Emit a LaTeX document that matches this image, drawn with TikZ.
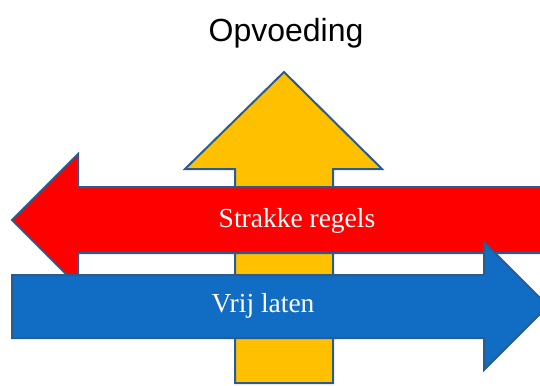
\documentclass[tikz,border=0pt]{standalone}
\usepackage{fontspec}
\setmainfont{Liberation Serif}
\newfontfamily\titlefont{Liberation Sans}
\definecolor{arrowgold}{HTML}{FFC000}
\definecolor{arrowred}{HTML}{FF0000}
\definecolor{arrowblue}{HTML}{116CC4}
\definecolor{edgeblue}{HTML}{2A5C8F}
\begin{document}
\begin{tikzpicture}[x=1pt,y=-1pt,
  shapearrow/.style={draw=edgeblue,line width=2pt,line join=miter},
  lbl/.style={text=white,font=\fontsize{27.5}{30}\selectfont,inner sep=0pt}]
\useasboundingbox (0,0) rectangle (540,385);
\clip (0,0) rectangle (540,385);
\fill[white] (0,0) rectangle (540,385);
\node[font=\titlefont\fontsize{32}{36}\selectfont,inner sep=0pt] (title) at (286,33) {Opvoeding};
% yellow up arrow
\path[shapearrow,fill=arrowgold] (284,72) -- (382,169) -- (333,169) -- (333,383) -- (235,383) -- (235,169) -- (185,169) -- cycle;
% red left arrow
\path[shapearrow,fill=arrowred] (12,220) -- (78,154) -- (78,187) -- (560,187) -- (560,253) -- (78,253) -- (78,286) -- cycle;
% blue right arrow
\path[shapearrow,fill=arrowblue] (548,306) -- (484,242) -- (484,275) -- (12,275) -- (12,338) -- (484,338) -- (484,370) -- cycle;
\node[lbl] (strak) at (297,221) {Strakke regels};
\node[lbl] (vrij) at (263,306) {Vrij laten};
\end{tikzpicture}
\end{document}
